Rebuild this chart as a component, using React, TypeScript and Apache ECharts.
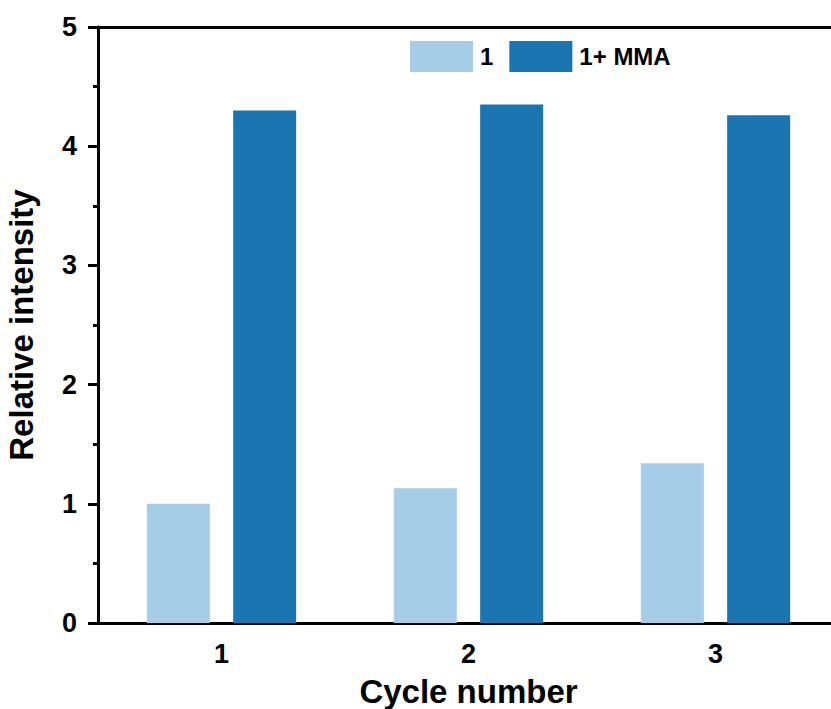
import React, { useEffect, useRef } from "react";
import * as echarts from "echarts";

const categories = ["1", "2", "3"];
const series1 = [1.0, 1.13, 1.34];
const seriesMMA = [4.3, 4.35, 4.26];
const seriesNames = ["1", "1+ MMA"];

const FONT = "Liberation Sans, Arial, sans-serif";

export default function App() {
  const ref = useRef<HTMLDivElement>(null);
  useEffect(() => {
    document.body.style.margin = "0";
    const chart = echarts.init(ref.current!, null, { renderer: "svg" });
    chart.setOption({
      animation: false,
      backgroundColor: "#ffffff",
      textStyle: { fontFamily: FONT },
      grid: { left: 98, width: 741, top: 27, height: 596, containLabel: false, outerBoundsMode: "none" },
      legend: {
        data: seriesNames,
        left: 405,
        top: 36,
        itemWidth: 63,
        itemHeight: 31,
        itemGap: 16,
        icon: "rect",
        textStyle: { fontSize: 24, fontWeight: "bold", color: "#000", fontFamily: FONT, padding: [0, 0, 0, 2] },
      },
      xAxis: [
        {
          type: "category",
          data: categories,
          boundaryGap: true,
          axisLine: { lineStyle: { color: "#000", width: 3 } },
          axisTick: { alignWithLabel: true, length: 9, lineStyle: { width: 3, color: "#000" } },
          axisLabel: { fontSize: 27, fontWeight: "bold", color: "#000", margin: 17, fontFamily: FONT },
          name: "Cycle number",
          nameLocation: "middle",
          nameGap: 52,
          nameTextStyle: { fontSize: 33, fontWeight: "bold", color: "#000", fontFamily: FONT },
        },
        {
          type: "category",
          position: "top",
          data: categories,
          axisLine: { lineStyle: { color: "#000", width: 3 } },
          axisTick: { show: false },
          axisLabel: { show: false },
        },
      ],
      yAxis: {
        type: "value",
        min: 0,
        max: 5,
        interval: 1,
        axisLine: { show: true, lineStyle: { color: "#000", width: 3 } },
        axisTick: { show: true, length: 10, lineStyle: { width: 3, color: "#000" } },
        minorTick: { show: true, splitNumber: 2, length: 5, lineStyle: { width: 3, color: "#000" } },
        splitLine: { show: false },
        axisLabel: { fontSize: 27, fontWeight: "bold", color: "#000", margin: 21, fontFamily: FONT },
        name: "Relative intensity",
        nameLocation: "middle",
        nameGap: 60,
        nameTextStyle: { fontSize: 33, fontWeight: "bold", color: "#000", fontFamily: FONT },
      },
      series: [
        {
          name: seriesNames[0],
          type: "bar",
          data: series1,
          barWidth: 63,
          barGap: "37%",
          itemStyle: { color: "#a6cde7" },
        },
        {
          name: seriesNames[1],
          type: "bar",
          data: seriesMMA,
          barWidth: 63,
          barGap: "37%",
          itemStyle: { color: "#1a75b1" },
        },
      ],
    });
    return () => chart.dispose();
  }, []);
  return <div ref={ref} style={{ width: 831, height: 709 }} />;
}
